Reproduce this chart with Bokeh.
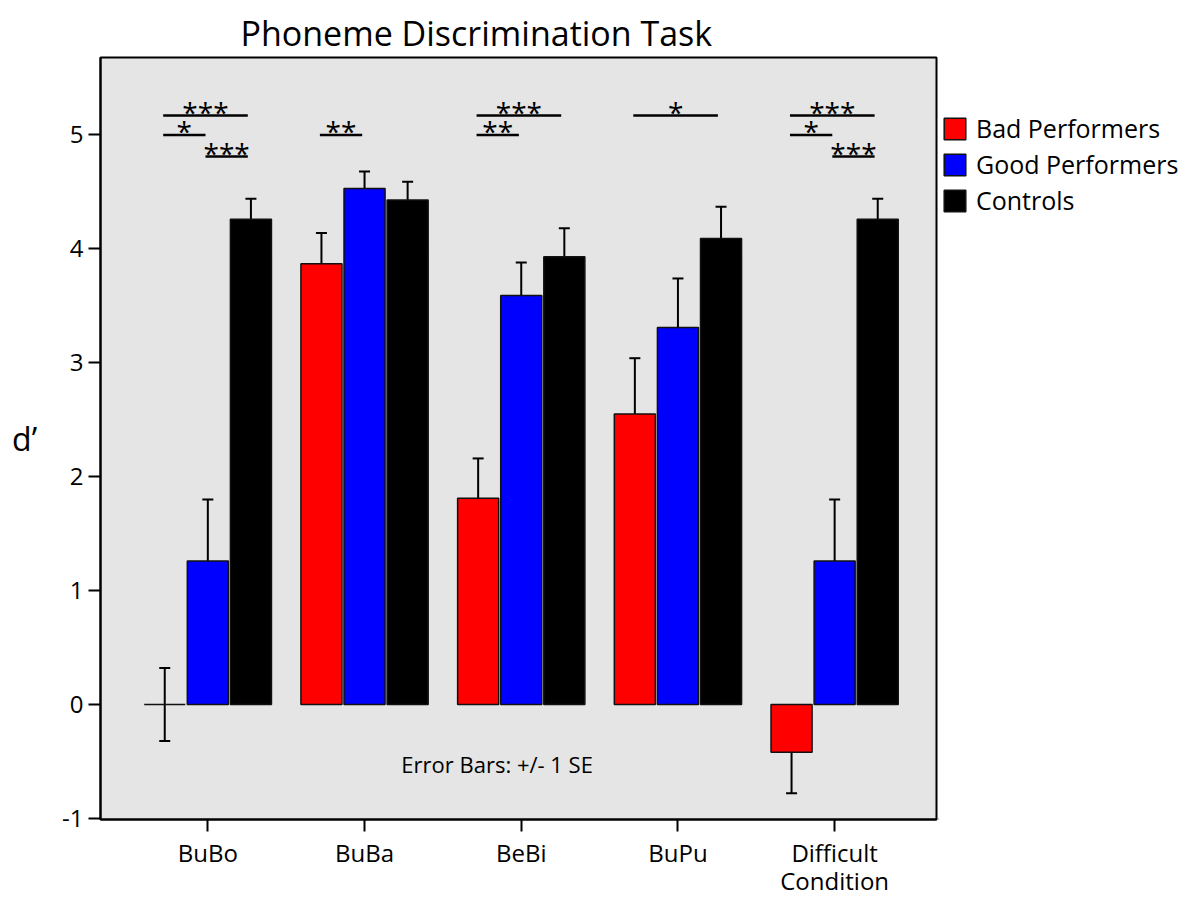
from bokeh.plotting import figure
from bokeh.layouts import row
from bokeh.models import (ColumnDataSource, Whisker, TeeHead, Legend, LegendItem,
                          Label, FixedTicker, Range1d)
from bokeh.core.properties import value
from bokeh.embed import file_html
from bokeh.resources import INLINE

# ---------------- data ----------------
categories = ["BuBo", "BuBa", "BeBi", "BuPu", "Difficult\nCondition"]
groups = ["Bad Performers", "Good Performers", "Controls"]
colors = ["#ff0000", "#0000ff", "#000000"]

bad_mean = [0.00, 3.87, 1.81, 2.55, -0.42]
bad_se = [0.32, 0.27, 0.35, 0.49, 0.36]
good_mean = [1.26, 4.53, 3.59, 3.31, 1.26]
good_se = [0.54, 0.15, 0.29, 0.43, 0.54]
ctrl_mean = [4.26, 4.43, 3.93, 4.09, 4.26]
ctrl_se = [0.18, 0.16, 0.25, 0.28, 0.18]

y_ticks = [-1, 0, 1, 2, 3, 4, 5]
y_tick_labels = ["-1", "0", "1", "2", "3", "4", "5"]

# significance markers: category index, group from, group to, label
sig_cat = [0, 0, 0, 1, 2, 2, 3, 4, 4, 4]
sig_from = [0, 0, 1, 0, 0, 0, 0, 0, 0, 1]
sig_to = [2, 1, 2, 1, 2, 1, 2, 2, 1, 2]
sig_label = ["***", "*", "***", "**", "***", "**", "*", "***", "*", "***"]

means = [bad_mean, good_mean, ctrl_mean]
ses = [bad_se, good_se, ctrl_se]

FONT = "Open Sans"

# ---------------- layout / style ----------------
offsets = [-0.275, 0.0, 0.275]
bar_w = 0.262
bracket_ends = [-0.285, -0.015, 0.255]
bracket_level = {(0, 2): 5.17, (0, 1): 5.0, (1, 2): 4.81}

H = 899
p = figure(width=938, height=H,
           x_range=Range1d(-0.685, 4.65), y_range=Range1d(-1.01, 5.68),
           output_backend="svg", toolbar_location=None,
           min_border_left=100, min_border_right=2,
           min_border_top=57, min_border_bottom=77)

p.background_fill_color = "#e5e5e5"
p.border_fill_color = "white"
p.outline_line_color = "black"
p.outline_line_width = 2
p.xgrid.visible = False
p.ygrid.visible = False

p.title.text = "Phoneme Discrimination Task"
p.title.text_font = FONT
p.title.text_font_size = "34px"
p.title.text_font_style = "normal"
p.title.text_color = "black"
p.title.text_line_height = 1.2
p.title.align = "left"
p.title.vertical_align = "top"
p.title.offset = 140
p.title.standoff = 0

bar_renderers = []
for gi in range(3):
    xs = [ci + offsets[gi] for ci in range(len(categories))]
    src = ColumnDataSource(dict(x=xs, top=means[gi],
                                upper=[m + s for m, s in zip(means[gi], ses[gi])],
                                lower=[m - s for m, s in zip(means[gi], ses[gi])]))
    r = p.vbar(x="x", top="top", bottom=0, width=bar_w, source=src,
               fill_color=colors[gi], line_color="#111111", line_width=1.5)
    bar_renderers.append(r)
    w = Whisker(base="x", upper="upper", lower="lower", source=src,
                line_color="black", line_width=2,
                upper_head=TeeHead(size=11, line_width=2, line_color="black"),
                lower_head=TeeHead(size=11, line_width=2, line_color="black"))
    p.add_layout(w)

# significance brackets
x0 = [c + bracket_ends[a] for c, a in zip(sig_cat, sig_from)]
x1 = [c + bracket_ends[b] for c, b in zip(sig_cat, sig_to)]
yy = [bracket_level[(a, b)] for a, b in zip(sig_from, sig_to)]
xm = [(u + v) / 2 for u, v in zip(x0, x1)]
sig_src = ColumnDataSource(dict(x0=x0, x1=x1, y=yy, xm=xm, label=sig_label))
p.segment(x0="x0", x1="x1", y0="y", y1="y", source=sig_src,
          line_color="black", line_width=2.5)
p.text(x="xm", y="y", text="label", source=sig_src, text_align="center",
       text_baseline="alphabetic", y_offset=-4, text_font=value(FONT),
       text_font_size="28px", text_color="black")

p.add_layout(Label(x=1.846, y=-0.52, text="Error Bars: +/- 1 SE",
                   text_align="center", text_baseline="middle",
                   text_font=FONT, text_font_size="22px", text_color="black"))

# axes
yax = p.yaxis[0]
yax.ticker = FixedTicker(ticks=y_ticks)
yax.major_label_overrides = {t: l for t, l in zip(y_ticks, y_tick_labels)}
yax.axis_label = "d\u2019"
yax.axis_label_orientation = "horizontal"
yax.axis_label_text_font = FONT
yax.axis_label_text_font_size = "32px"
yax.axis_label_text_font_style = "normal"
yax.axis_label_text_color = "black"
yax.axis_label_standoff = 22
yax.major_label_text_font = FONT
yax.major_label_text_font_size = "24px"
yax.major_label_text_color = "black"
yax.major_label_standoff = 5
yax.major_tick_out = 12
yax.major_tick_in = 0
yax.major_tick_line_width = 2
yax.minor_tick_line_color = None
yax.axis_line_width = 2

xax = p.xaxis[0]
xax.ticker = FixedTicker(ticks=list(range(len(categories))))
xax.major_label_overrides = {i: c for i, c in enumerate(categories)}
xax.major_label_text_font = FONT
xax.major_label_text_font_size = "24px"
xax.major_label_text_color = "black"
xax.major_label_text_line_height = 0.85
xax.major_label_standoff = 4
xax.major_tick_out = 12
xax.major_tick_in = 0
xax.major_tick_line_width = 2
xax.minor_tick_line_color = None
xax.axis_line_width = 2

# legend panel to the right of the plot box (proxy glyphs sit outside its visible range)
p2 = figure(width=1204 - 938, height=H, x_range=Range1d(0, 1), y_range=Range1d(0, 1),
            output_backend="svg", toolbar_location=None,
            x_axis_location=None, y_axis_location=None,
            min_border_left=0, min_border_right=0, min_border_top=0, min_border_bottom=0)
p2.outline_line_color = None
p2.xgrid.visible = False
p2.ygrid.visible = False
p2.background_fill_color = "white"

proxy = ColumnDataSource(dict(x=[-1.0], top=[0.0]))
legend_renderers = [p2.vbar(x="x", top="top", width=0.1, source=proxy, fill_color=c,
                            line_color="#111111", line_width=1.5) for c in colors]
legend = Legend(items=[LegendItem(label=g, renderers=[r]) for g, r in zip(groups, legend_renderers)],
                location=(3, 602), glyph_width=27, glyph_height=27,
                label_height=27, spacing=2, padding=0, margin=0,
                label_standoff=8, label_text_font=FONT, label_text_font_size="25px",
                label_text_color="black",
                border_line_color=None, background_fill_alpha=0)
p2.add_layout(legend)

open("out.html", "w").write(file_html(row(p, p2), INLINE))
